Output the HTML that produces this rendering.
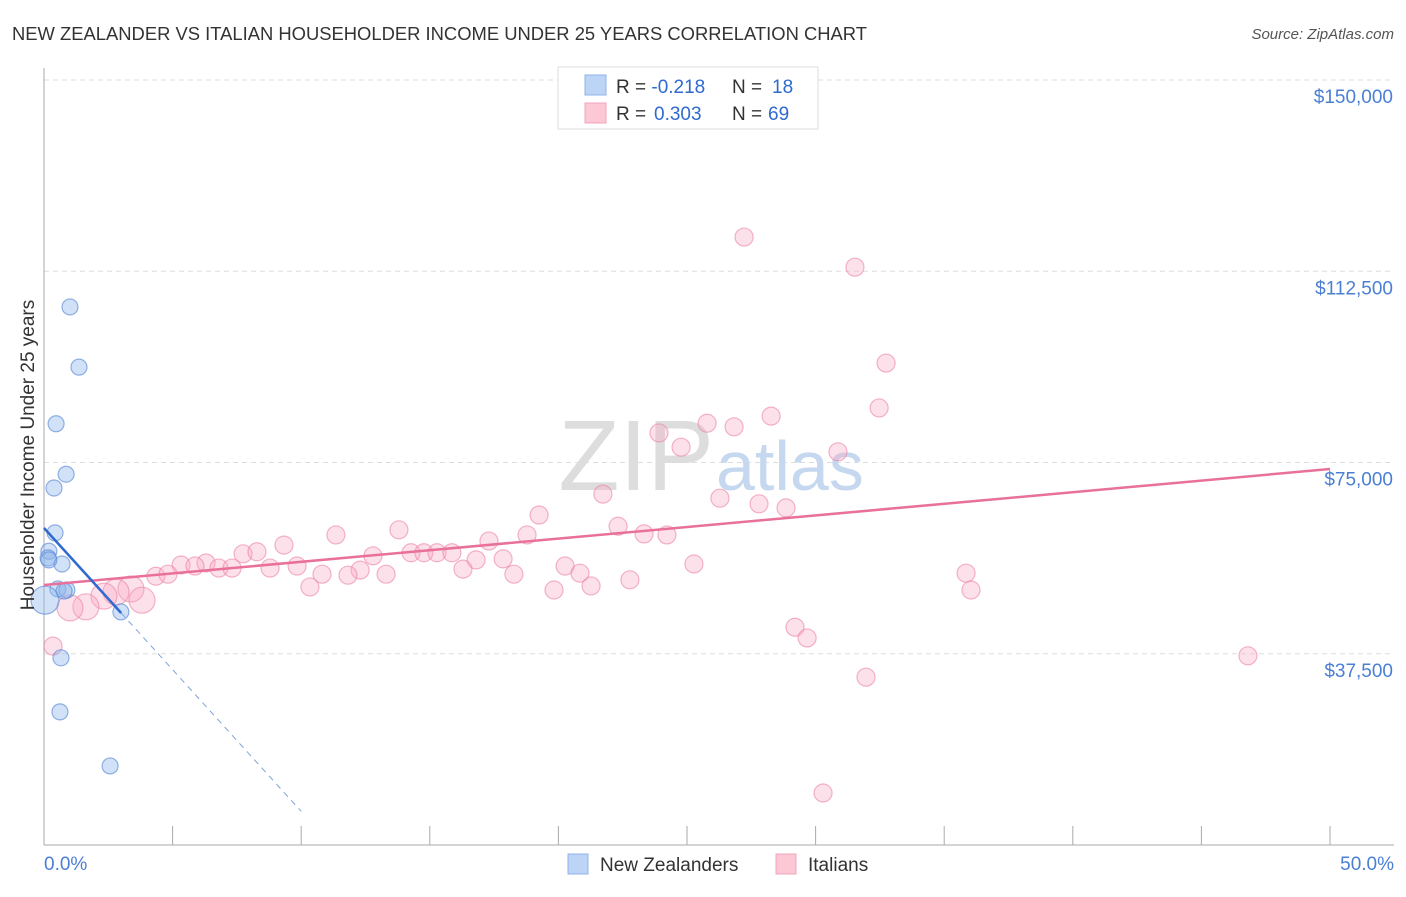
<!DOCTYPE html>
<html><head><meta charset="utf-8"><style>
body{margin:0;background:#fff;font-family:"Liberation Sans",sans-serif}
svg text{font-family:"Liberation Sans",sans-serif}
</style></head><body>
<svg width="1406" height="892">
<text x="12" y="40" font-size="18.4" fill="#333">NEW ZEALANDER VS ITALIAN HOUSEHOLDER INCOME UNDER 25 YEARS CORRELATION CHART</text>
<text x="1394" y="39" font-size="15" fill="#555" font-style="italic" text-anchor="end">Source: ZipAtlas.com</text>
<g id="grid"></g>
<text x="714" y="490" font-size="100" fill="#ddd" text-anchor="end" font-family="Liberation Serif">ZIP</text>
<text x="716" y="490" font-size="70" fill="#c6d8ef">atlas</text>
<g id="marks"></g>
<text transform="translate(34,455) rotate(-90)" font-size="19" fill="#333" text-anchor="middle">Householder Income Under 25 years</text>
<text x="44" y="870" font-size="19" fill="#4a7fd4">0.0%</text>
<text x="1394" y="870" font-size="19" fill="#4a7fd4" text-anchor="end">50.0%</text>
<g>
<rect x="558" y="67" width="260" height="62" fill="#fff" stroke="#ddd"/>
<rect x="585" y="75" width="21" height="20" fill="#bcd4f5" stroke="#8fb3e8"/>
<rect x="585" y="103" width="21" height="20" fill="#fcc8d6" stroke="#f2a5bb"/>
<text x="616" y="93" font-size="19" fill="#333">R = <tspan fill="#2f6ad0">-0.218</tspan><tspan x="732">N = </tspan><tspan x="772" fill="#2f6ad0">18</tspan></text>
<text x="616" y="120" font-size="19" fill="#333">R = <tspan x="654" fill="#2f6ad0">0.303</tspan><tspan x="732">N = </tspan><tspan x="768" fill="#2f6ad0">69</tspan></text>
</g>
<g>
<rect x="568" y="854" width="20" height="20" fill="#bcd4f5" stroke="#8fb3e8"/>
<text x="600" y="871" font-size="19" fill="#333">New Zealanders</text>
<rect x="776" y="854" width="20" height="20" fill="#fcc8d6" stroke="#f2a5bb"/>
<text x="808" y="871" font-size="19" fill="#333">Italians</text>
</g>
</svg>
<script>
const yTicks=[37500,75000,112500,150000];
const yTickLabels=["$37,500","$75,000","$112,500","$150,000"];
const xTicks=[0,5,10,15,20,25,30,35,40,45,50];
const blueX=[1.01,1.36,0.47,0.86,0.39,0.43,0.19,0.16,0.70,0.54,0.89,0.78,0.04,2.99,0.66,0.62,2.57,0.19];
const blueY=[105.5,93.7,82.6,72.7,70.0,61.2,57.6,56.3,55.1,50.2,50.0,49.8,48.0,45.7,36.7,26.1,15.5,55.9];
const pinkX=[27.22,31.53,32.74,32.47,28.27,25.78,26.83,23.91,24.77,30.87,26.28,21.73,27.80,28.85,19.25,22.32,13.80,11.35,23.33,24.22,18.78,17.30,9.33,12.79,7.74,8.28,14.27,14.77,15.28,15.86,17.85,16.80,6.30,5.33,5.87,6.80,7.31,9.84,8.79,16.29,12.29,20.26,25.27,20.84,13.30,10.81,11.82,4.35,4.82,18.27,35.85,22.78,21.27,10.34,19.83,36.04,3.38,2.80,3.81,2.33,1.63,1.01,29.20,29.67,0.35,31.96,46.81,30.29];
const pinkY=[119.2,113.3,94.5,85.7,84.1,82.7,82.0,80.8,78.0,77.1,68.0,68.8,66.9,66.1,64.7,62.5,61.8,60.8,61.0,60.8,60.8,59.6,58.8,56.7,57.1,57.5,57.3,57.3,57.3,57.3,56.1,55.9,55.3,54.9,54.7,54.3,54.3,54.7,54.3,54.1,53.9,54.7,55.1,53.3,53.1,53.1,52.9,52.7,53.1,53.1,53.3,52.0,50.8,50.6,50.0,50.0,50.2,49.6,48.0,48.8,46.7,46.5,42.7,40.6,39.0,32.9,37.1,10.2];
const blueTrend=[62.16,-5.556];
const pinkTrend=[50.98,0.4549];
const X=v=>44+v/50*1286;
const Y=v=>845-v/150000*765;
const NS="http://www.w3.org/2000/svg";
function mk(p,t,a){const e=document.createElementNS(NS,t);for(const k in a)e.setAttribute(k,a[k]);p.appendChild(e);return e;}
const g=document.getElementById('grid'),m=document.getElementById('marks');
yTicks.forEach((t,i)=>{
 const l=mk(g,'line',{x1:44,x2:1394,y1:Y(t),y2:Y(t),stroke:'#ddd','stroke-dasharray':'5,4'});
 
 
 const tx=mk(g,'text',{x:1393,y:Y(t)+23,'font-size':19,fill:'#4a7fd4','text-anchor':'end'});
 tx.textContent=yTickLabels[i];
 
 
});
const ya=mk(g,'line',{x1:44,x2:44,y1:68,y2:845,stroke:'#aaa'});


const xa=mk(g,'line',{x1:44,x2:1394,y1:845,y2:845,stroke:'#aaa'});


xTicks.forEach(t=>{
 const l=mk(g,'line',{x1:X(t),x2:X(t),y1:826,y2:845,stroke:'#aaa'});
 
 
});
pinkX.forEach((x,i)=>{
 const big=(x<4.5&&pinkY[i]>45&&pinkY[i]<51);
 const c=mk(m,'circle',{cx:X(x),cy:Y(pinkY[i]*1000),r:big?13:9,fill:'rgba(248,170,195,0.35)',stroke:'rgba(235,130,165,0.6)','stroke-width':1.2});
 
 
});
blueX.forEach((x,i)=>{
 const c=mk(m,'circle',{cx:X(x),cy:Y(blueY[i]*1000),r:i==12?14:8,fill:'rgba(140,180,235,0.4)',stroke:'rgba(80,130,210,0.6)','stroke-width':1.2});
 
 
});
const pl=mk(m,'line',{x1:X(0),y1:Y(pinkTrend[0]*1000),x2:X(50),y2:Y((pinkTrend[0]+pinkTrend[1]*50)*1000),stroke:'#e8709a','stroke-width':2.5});


const bx=3;
const bl=mk(m,'line',{x1:X(0),y1:Y(blueTrend[0]*1000),x2:X(bx),y2:Y((blueTrend[0]+blueTrend[1]*bx)*1000),stroke:'#2f6ad0','stroke-width':2.5});


const be=10;
const bd=mk(m,'line',{x1:X(bx),y1:Y((blueTrend[0]+blueTrend[1]*bx)*1000),x2:X(be),y2:Y((blueTrend[0]+blueTrend[1]*be)*1000),stroke:'#7fa3db','stroke-width':1,'stroke-dasharray':'6,5'});


</script>
</body></html>
